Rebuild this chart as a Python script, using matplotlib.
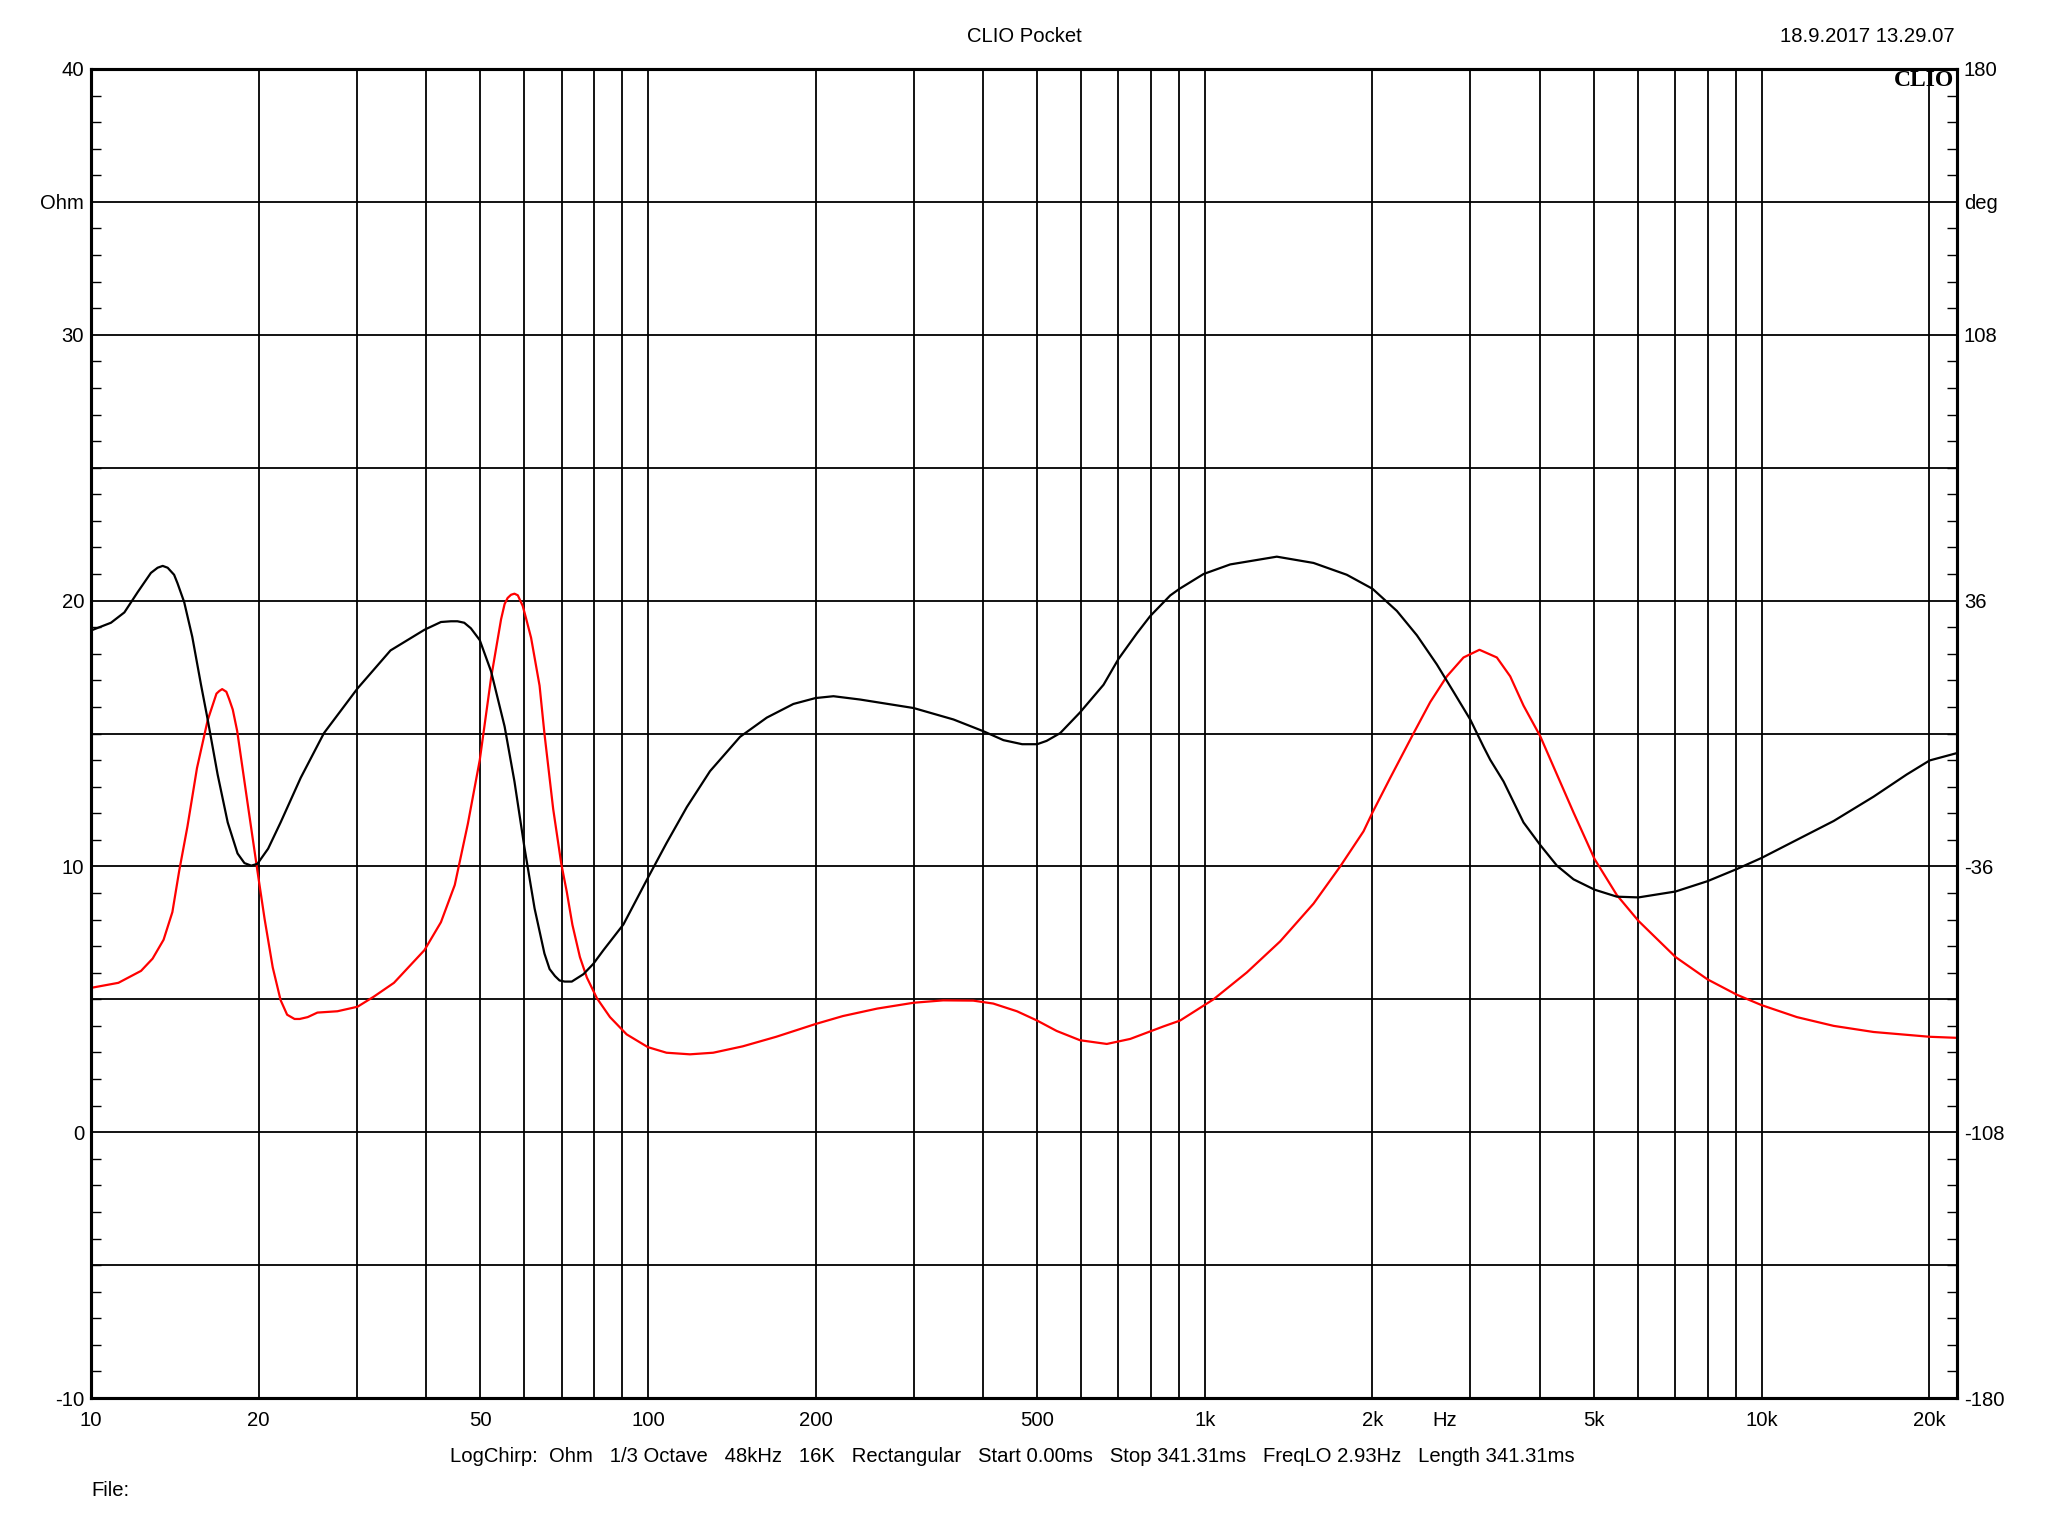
import matplotlib
matplotlib.use("Agg")
import matplotlib.pyplot as plt
from matplotlib.ticker import MultipleLocator, NullLocator

plt.rcParams['font.family'] = ['Liberation Sans', 'DejaVu Sans']

### Data

# impedance magnitude (red trace, left axis, Ohm)
imp_freq = [10, 11.2, 12.3, 12.9, 13.5, 14.0, 14.4, 14.9, 15.5, 16.2, 16.8, 17.0,
            17.2, 17.5, 17.7, 17.97, 18.3, 19.1, 19.9, 20.5, 21.2, 21.9, 22.5, 23.2,
            23.7, 24.5, 25.5, 27.7, 30.1, 32.2, 35.0, 39.7, 42.5, 45.0, 47.5, 49.9,
            52.3, 54.5, 55.3, 56.0, 56.8, 57.6, 58.4, 59.6, 60.4, 61.7, 63.9, 65.2,
            67.6, 69.9, 71.5, 73.2, 75.5, 77.7, 81.0, 85.5, 91.6, 100, 108,
            119, 131, 148, 170, 200, 224, 258, 300, 339, 384, 417, 460,
            500, 542, 597, 667, 735, 843, 903, 1037, 1190, 1366, 1568, 1751,
            1928, 2001, 2153, 2370, 2540, 2721, 2915, 3114, 3346, 3536, 3736, 4003,
            4289, 4594, 5011, 5496, 6009, 7005, 7995, 9030, 10000, 11570, 13470, 15890,
            20030, 22430]
imp_ohm = [5.43, 5.62, 6.07, 6.53, 7.24, 8.28, 9.83, 11.5, 13.7, 15.5, 16.5, 16.6,
           16.67, 16.57, 16.3, 15.9, 15.1, 12.4, 9.83, 8.02, 6.2, 4.97, 4.42, 4.26,
           4.26, 4.33, 4.5, 4.55, 4.72, 5.1, 5.62, 6.85, 7.9, 9.3, 11.6, 14.0,
           17.1, 19.3, 19.87, 20.1, 20.22, 20.26, 20.2, 19.8, 19.35, 18.6, 16.8, 15.0,
           12.16, 10.1, 9.05, 7.8, 6.59, 5.82, 5.04, 4.33, 3.68, 3.2, 2.99,
           2.93, 2.99, 3.23, 3.59, 4.07, 4.37, 4.65, 4.87, 4.96, 4.95, 4.84, 4.55,
           4.2, 3.81, 3.46, 3.32, 3.51, 3.98, 4.2, 5.0, 6.01, 7.18, 8.6, 10.0,
           11.32, 12.03, 13.33, 15.0, 16.18, 17.15, 17.86, 18.15, 17.86, 17.15, 16.05, 14.9,
           13.46, 12.03, 10.28, 8.92, 7.95, 6.59, 5.75, 5.17, 4.78, 4.33, 4.0, 3.77,
           3.59, 3.55]

# impedance phase (black trace, right axis, deg)
phase_freq = [10, 10.86, 11.48, 12.13, 12.81, 13.17, 13.45, 13.73, 14.1, 14.3, 14.7, 15.2,
              15.76, 16.2, 16.88, 17.6, 18.33, 18.86, 19.4, 19.9, 20.8, 21.9, 23.8, 26.2,
              30.1, 34.5, 39.7, 42.5, 44.3, 45.5, 46.8, 48.1, 49.9, 52.3, 55.3, 57.6,
              60.0, 62.6, 65.2, 66.6, 68.1, 69.4, 70.9, 73.0, 76.6, 79.8,
              83.2, 90.4, 100, 108, 117.5, 129.3, 146.4, 163.5, 182.5, 200, 215.4, 240.5,
              300, 353.8, 400.6, 435, 470, 500, 520, 550, 597, 658, 700, 755,
              798, 867, 901, 995, 1111, 1347, 1568, 1799, 2001, 2213, 2404, 2611,
              2797, 2997, 3167, 3255, 3440, 3736, 4003, 4289, 4594, 5011, 5496, 6009,
              7005, 7995, 9030, 10000, 11570, 13470, 15890, 18220, 20030, 22430]
phase_deg = [27.9, 30.0, 32.8, 38.3, 43.5, 44.9, 45.4, 44.9, 43.0, 40.7, 35.6, 26.2,
             13.2, 3.8, -11.1, -24.1, -32.5, -35.1, -35.8, -35.3, -31.2, -24.1, -12.0, 0.1,
             12.2, 22.5, 28.1, 30.2, 30.4, 30.4, 30.0, 28.5, 25.3, 16.8, 1.9, -13.0,
             -30.7, -47.4, -59.6, -63.8, -65.7, -66.9, -67.2, -67.2, -65.2, -62.4,
             -58.7, -51.7, -39.1, -29.7, -19.9, -10.2, -0.9, 4.3, 8.0, 9.6, 10.1, 9.2,
             6.9, 3.8, 0.6, -1.8, -2.9, -2.9, -2.0, 0.1, 5.7, 13.2, 20.2, 27.1,
             31.8, 37.4, 39.2, 43.2, 45.8, 47.9, 46.2, 43.0, 39.2, 33.2, 26.6, 18.7,
             11.3, 3.8, -3.6, -7.1, -13.0, -24.1, -30.2, -35.8, -39.5, -42.3, -44.2, -44.4,
             -42.8, -40.0, -36.7, -33.7, -28.8, -23.7, -17.1, -11.1, -7.3, -5.3]

# axis labels
xtick_freqs = [10, 20, 50, 100, 200, 500, 1000, 2000, 5000, 10000, 20000]
xtick_text = ['10', '20', '50', '100', '200', '500', '1k', '2k', '5k', '10k', '20k']
ohm_ticks = [-10, 0, 10, 20, 30, 35, 40]
ohm_text = ['-10', '0', '10', '20', '30', 'Ohm', '40']
deg_ticks = [-180, -108, -36, 36, 108, 144, 180]
deg_text = ['-180', '-108', '-36', '36', '108', 'deg', '180']

title = 'CLIO Pocket'
stamp = '18.9.2017 13.29.07'
footer = ('LogChirp:  Ohm   1/3 Octave   48kHz   16K   Rectangular   Start 0.00ms   '
          'Stop 341.31ms   FreqLO 2.93Hz   Length 341.31ms')

### Drawing

FS = 14.6
fig = plt.figure(figsize=(20.48, 15.36), dpi=100)
ax = fig.add_axes([91 / 2048, 1 - 1398 / 1536, 1866 / 2048, 1329 / 1536])
ax2 = ax.twinx()

ax.set_xscale('log')
ax.set_xlim(10, 22430)
ax.set_ylim(-10, 40)
ax2.set_ylim(-180, 180)

# grid: 1-2-..-9 per decade on x, every 5 Ohm on y
for dec in (10, 100, 1000):
    for m in range(1, 10):
        ax.axvline(m * dec, color='black', lw=1.3, zorder=1)
ax.axvline(10000, color='black', lw=1.3, zorder=1)
ax.axvline(20000, color='black', lw=1.3, zorder=1)
for y in range(-5, 40, 5):
    ax.axhline(y, color='black', lw=1.3, zorder=1)

ax.plot(imp_freq, imp_ohm, color='#ff0000', lw=1.6, zorder=3)
ax2.plot(phase_freq, phase_deg, color='black', lw=1.6, zorder=3)

ax.set_xticks(xtick_freqs, xtick_text)
ax.xaxis.set_minor_locator(NullLocator())
ax.tick_params(axis='x', length=0, pad=9, labelsize=FS)

ax.set_yticks(ohm_ticks, ohm_text)
ax.yaxis.set_minor_locator(MultipleLocator(1))
ax.tick_params(axis='y', which='major', length=0, pad=5, labelsize=FS)
ax.tick_params(axis='y', which='minor', direction='in', length=7.2, width=1.0,
               left=True, right=True)

ax2.set_yticks(deg_ticks, deg_text)
ax2.tick_params(axis='y', length=0, pad=5, labelsize=FS)

for a in (ax, ax2):
    for s in a.spines.values():
        s.set_linewidth(2.2)

ax.annotate('Hz', xy=(2700, -10), xycoords='data', xytext=(0, -9),
            textcoords='offset points', ha='center', va='top', fontsize=FS)

fig.text(1024 / 2048, 1 - 36 / 1536, title, ha='center', va='center', fontsize=FS)
fig.text(1955 / 2048, 1 - 36 / 1536, stamp, ha='right', va='center', fontsize=FS)
fig.text(1954 / 2048, 1 - 81 / 1536, 'CLIO', ha='right', va='center', fontsize=17,
         family='Liberation Serif', weight='bold')
fig.text(1012 / 2048, 1 - 1456 / 1536, footer, ha='center', va='center', fontsize=FS)
fig.text(91 / 2048, 1 - 1490 / 1536, 'File:', ha='left', va='center', fontsize=FS)

fig.savefig('out.png', dpi=100)
